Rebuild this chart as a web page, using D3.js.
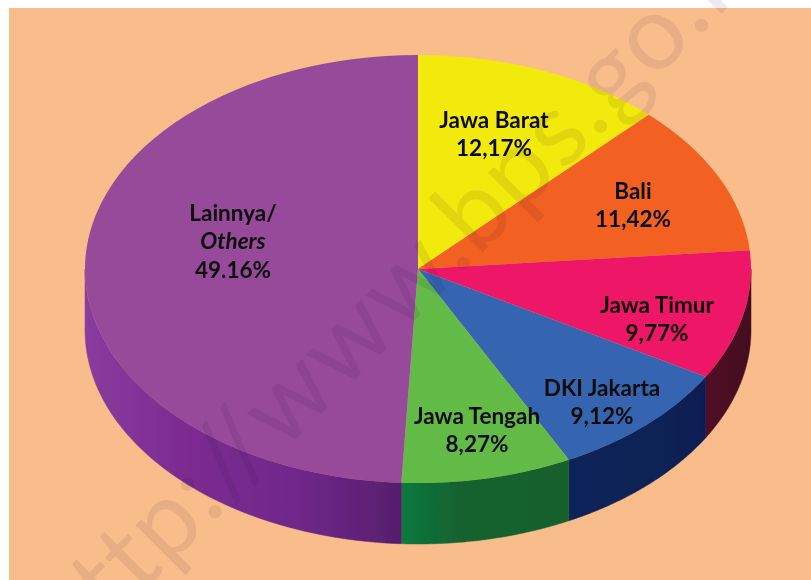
<!DOCTYPE html>
<html><head><meta charset="utf-8">
<script src="https://cdn.jsdelivr.net/npm/d3@7/dist/d3.min.js"></script>
<style>html,body{margin:0;padding:0;background:#fff}svg{display:block}</style>
</head><body><svg id="c" width="811" height="580"></svg>
<script>
const categories = ["Jawa Barat","Bali","Jawa Timur","DKI Jakarta","Jawa Tengah","Lainnya/"];
const values = [12.17,11.42,9.77,9.12,8.27,49.16];
const valueLabels = ["12,17%","11,42%","9,77%","9,12%","8,27%","49.16%"];
const subLabels = ["","","","","","Others"];
const topColors = ["#F2EA0D","#F26122","#EE1566","#3465B0","#63BB47","#974A9A"];
const sideStops = [["#B0A800","#B0A800"],["#A03C10","#A03C10"],["#520C26","#430A20"],["#0A2258","#0A1F52"],["#0C7A3E","#14622F","#14622F","#15602F"],["#8A3C9E","#7C2A90","#70288A","#561E6C"]];
const labelAnchor = [[494,134],[633,205],[657,319],[602,402],[477,430],[233,241]];

const W=811,H=580,cx=418,cy=269,rx=333,ry=214,depth=61;
const svg=d3.select("#c");
svg.append("rect").attr("x",9).attr("y",8).attr("width",W-9).attr("height",H-8).attr("fill","#F9BD8B");
const defs=svg.append("defs");
defs.append("filter").attr("id","soft").append("feGaussianBlur").attr("stdDeviation",0.45);

const pie=d3.pie().sort(null).value(d=>d);
const arcs=pie(values);
const ang=d3.scaleLinear().domain([0,1]);
const px=t=>cx+rx*Math.sin(t), py=t=>cy-ry*Math.cos(t);

const chart=svg.append("g").attr("filter","url(#soft)");
const wall=d3.area().x(t=>px(t)).y0(t=>py(t)).y1(t=>py(t)+depth);
arcs.forEach((a,i)=>{
  const s=Math.max(a.startAngle,Math.PI/2), e=Math.min(a.endAngle,Math.PI*1.5);
  if(e<=s) return;
  ang.range([s,e]);
  const ts=d3.range(0,1.0001,1/60).map(ang);
  const id="side"+i, xs=[px(s),px(e)];
  const g=defs.append("linearGradient").attr("id",id).attr("gradientUnits","userSpaceOnUse")
    .attr("x1",Math.min(...xs)).attr("x2",Math.max(...xs)).attr("y1",0).attr("y2",0);
  sideStops[i].forEach((c,k,st)=>g.append("stop").attr("offset",k/(st.length-1)).attr("stop-color",c));
  chart.append("path").attr("d",wall(ts)).attr("fill",`url(#${id})`).attr("stroke",`url(#${id})`).attr("stroke-width",0.5);
});
const arc=d3.arc().innerRadius(0).outerRadius(rx);
chart.append("g").attr("transform",`translate(${cx},${cy}) scale(1,${ry/rx})`)
  .selectAll("path").data(arcs).join("path")
  .attr("d",arc).attr("fill",(d,i)=>topColors[i]);

// watermark
svg.append("text").attr("transform","translate(70,665) rotate(-45)")
  .attr("font-family","Lato,sans-serif").attr("font-size",104).attr("letter-spacing",2)
  .attr("fill","#EDEAF1").style("mix-blend-mode","multiply").text("http://www.bps.go.id");

const lab=svg.append("g").attr("font-family","Lato, 'Noto Sans', sans-serif").attr("font-weight",700)
  .attr("font-size",22.5).attr("text-anchor","middle").attr("fill","#0b0b0b");
categories.forEach((c,i)=>{
  const lines=[[c,false]];
  if(subLabels[i]) lines.push([subLabels[i],true]);
  lines.push([valueLabels[i],false]);
  const n=lines.length, step=28.5;
  lines.forEach((l,k)=>{
    lab.append("text").attr("x",labelAnchor[i][0])
      .attr("y",labelAnchor[i][1]+(k-(n-1)/2)*step+8)
      .attr("font-style",l[1]?"italic":"normal").text(l[0]);
  });
});
</script></body></html>
